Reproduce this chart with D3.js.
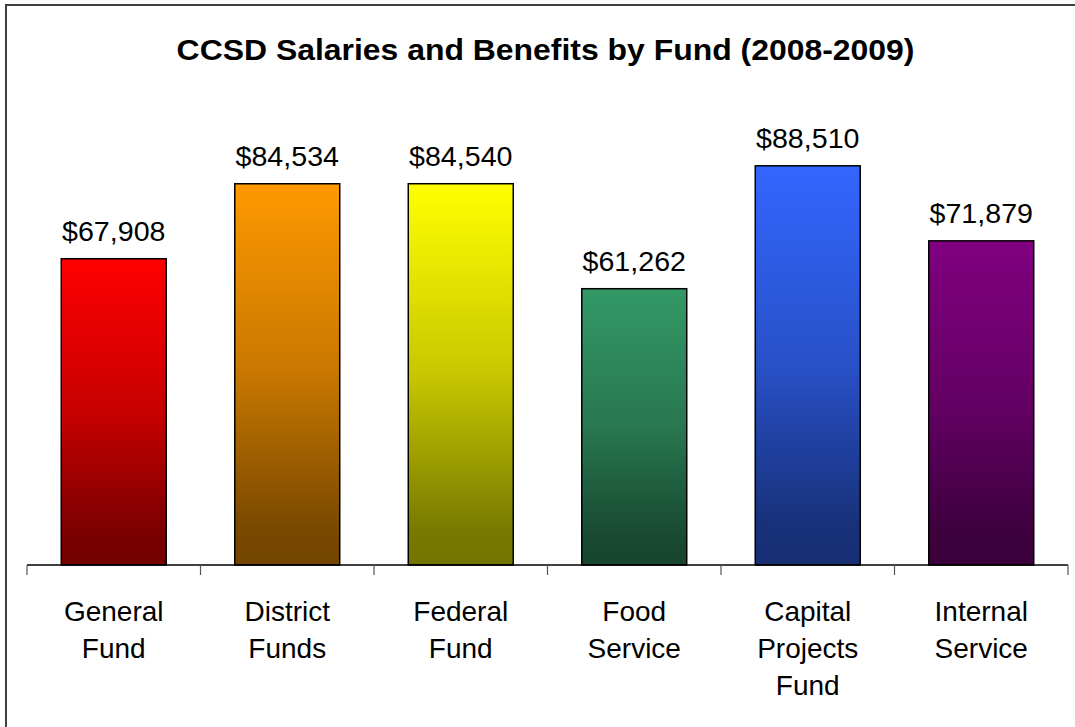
<!DOCTYPE html>
<html>
<head>
<meta charset="utf-8">
<script src="https://cdn.jsdelivr.net/npm/d3@7"></script>
<style>
  html, body { margin: 0; padding: 0; background: #fff; }
  svg { display: block; }
</style>
</head>
<body>
<svg id="chart" width="1075" height="727"></svg>
<script>
// ---- data ----
const title = "CCSD Salaries and Benefits by Fund (2008-2009)";
const categories = [
  ["General", "Fund"],
  ["District", "Funds"],
  ["Federal", "Fund"],
  ["Food", "Service"],
  ["Capital", "Projects", "Fund"],
  ["Internal", "Service"]
];
const values = [67908, 84534, 84540, 61262, 88510, 71879];
const yDomain = [0, 100000];
const barColors = ["#FF0000", "#FF9900", "#FFFF00", "#339966", "#3366FF", "#800080"];

// ---- layout ----
const W = 1075, H = 727;
const svg = d3.select("#chart");
const fontFam = "'Liberation Sans', Arial, Helvetica, sans-serif";

// outer border (extends beyond canvas right/bottom as in reference)
svg.append("rect")
  .attr("x", 6).attr("y", 5)
  .attr("width", 1100).attr("height", 800)
  .attr("fill", "#fff")
  .attr("stroke", "#404040").attr("stroke-width", 2);

const keys = categories.map(c => c.join(" "));
const plotLeft = 27, plotRight = 1068, baseY = 565, topY = 114;

const xOuter = d3.scaleBand().domain(keys).range([plotLeft, plotRight]).padding(0);
const x = d3.scaleBand().domain(keys).range([plotLeft, plotRight])
  .paddingInner(0.395).paddingOuter(0.1975);
const y = d3.scaleLinear().domain(yDomain).range([baseY, topY]);

// gradients
const defs = svg.append("defs");
barColors.forEach((c, i) => {
  const g = defs.append("linearGradient")
    .attr("id", "grad" + i)
    .attr("x1", 0).attr("y1", 0).attr("x2", 0).attr("y2", 1);
  const base = d3.rgb(c);
  const dk = f => d3.rgb(base.r * f, base.g * f, base.b * f).formatHex();
  [[0, 1], [0.5, 0.78], [0.9, 0.48], [1, 0.45]].forEach(([o, f]) => {
    g.append("stop").attr("offset", o).attr("stop-color", dk(f));
  });
});

// title
svg.append("text")
  .attr("transform", `translate(${W / 2 + 8},59.5) scale(1.09,1)`)
  .attr("text-anchor", "middle")
  .attr("font-family", fontFam)
  .attr("font-weight", "bold")
  .attr("font-size", 29.3)
  .attr("fill", "#000")
  .text(title);

// bars
svg.append("g").selectAll("rect")
  .data(values)
  .join("rect")
  .attr("x", (d, i) => x(keys[i]))
  .attr("y", d => y(d))
  .attr("width", x.bandwidth())
  .attr("height", d => baseY - y(d))
  .attr("fill", (d, i) => `url(#grad${i})`)
  .attr("stroke", "#000")
  .attr("stroke-width", 1.5);

// value labels
const fmt = d3.format("$,");
svg.append("g").selectAll("text")
  .data(values)
  .join("text")
  .attr("transform", (d, i) => `translate(${x(keys[i]) + x.bandwidth() / 2},${y(d) - 18}) scale(1.06,1)`)
  .attr("text-anchor", "middle")
  .attr("font-family", fontFam)
  .attr("font-size", 27)
  .attr("fill", "#000")
  .text(d => fmt(d));

// axis line and ticks
const axisG = svg.append("g");
axisG.append("line")
  .attr("x1", plotLeft).attr("x2", plotRight)
  .attr("y1", baseY).attr("y2", baseY)
  .attr("stroke", "#000").attr("stroke-width", 1.5);
const tickXs = keys.map(k => xOuter(k)).concat([plotRight]);
axisG.selectAll("line.tick")
  .data(tickXs)
  .join("line")
  .attr("class", "tick")
  .attr("x1", d => d).attr("x2", d => d)
  .attr("y1", baseY).attr("y2", baseY + 10)
  .attr("stroke", "#555").attr("stroke-width", 1.2);

// category labels
const catG = svg.append("g").selectAll("text")
  .data(categories)
  .join("text")
  .attr("text-anchor", "middle")
  .attr("font-family", fontFam)
  .attr("font-size", 28)
  .attr("fill", "#000");
catG.each(function (lines, i) {
  const t = d3.select(this);
  lines.forEach((ln, j) => {
    t.append("tspan")
      .attr("x", x(keys[i]) + x.bandwidth() / 2)
      .attr("y", 621 + j * 37)
      .text(ln);
  });
});
</script>
</body>
</html>
